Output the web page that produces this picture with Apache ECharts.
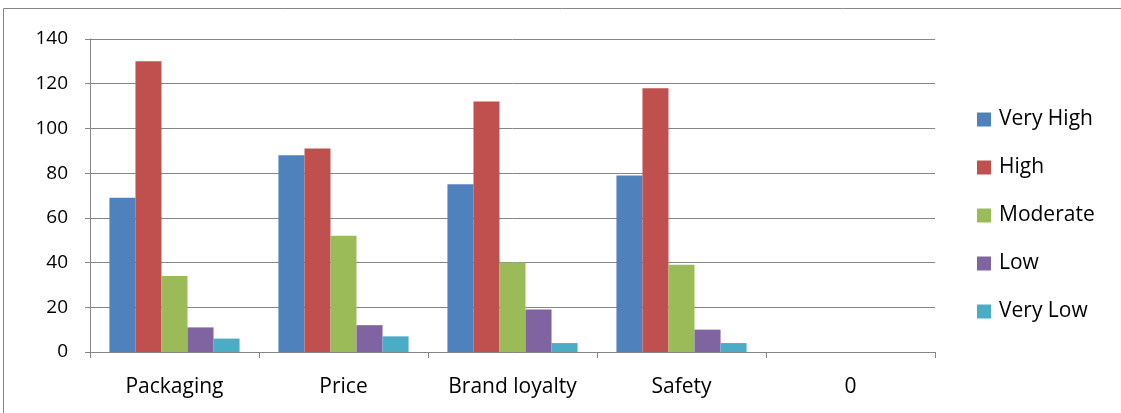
<!DOCTYPE html>
<html>
<head>
<meta charset="utf-8">
<script src="https://cdn.jsdelivr.net/npm/echarts@6/dist/echarts.min.js"></script>
<style>
html,body{margin:0;padding:0;background:#fff;}
#c{width:1121px;height:413px;}
</style>
</head>
<body>
<div id="c"></div>
<script>
const categories = ['Packaging', 'Price', 'Brand loyalty', 'Safety', '0'];
const seriesNames = ['Very High', 'High', 'Moderate', 'Low', 'Very Low'];
const veryHigh = [69, 88, 75, 79, null];
const high = [130, 91, 112, 118, null];
const moderate = [34, 52, 40, 39, null];
const low = [11, 12, 19, 10, null];
const veryLow = [6, 7, 4, 4, null];
const yTicks = [0, 20, 40, 60, 80, 100, 120, 140];

const colors = ['#4F81BD', '#C0504D', '#9BBB59', '#8064A2', '#4BACC6'];
const values = [veryHigh, high, moderate, low, veryLow];
const font = '"Open Sans", "Liberation Sans", sans-serif';

const chart = echarts.init(document.getElementById('c'), null, {renderer: 'canvas'});
chart.setOption({
  animation: false,
  color: colors,
  graphic: [{
    type: 'rect',
    shape: {x: 3.5, y: 8.5, width: 1130, height: 420},
    style: {fill: 'none', stroke: '#868686', lineWidth: 1},
    silent: true
  }],
  grid: {left: 90, right: 186, top: 39, bottom: 61, containLabel: false},
  legend: {
    orient: 'vertical',
    left: 972,
    top: 104,
    itemWidth: 14,
    itemHeight: 14,
    itemGap: 27,
    icon: 'rect',
    textStyle: {fontFamily: font, fontSize: 21, lineHeight: 20, color: '#000', padding: [0, 0, 0, 3]},
    data: seriesNames
  },
  xAxis: {
    type: 'category',
    data: categories,
    axisLine: {lineStyle: {color: '#868686', width: 1}},
    axisTick: {show: true, length: 6, interval: 0, alignWithLabel: false, lineStyle: {color: '#868686'}},
    axisLabel: {fontFamily: font, fontSize: 21, color: '#000', margin: 25, interval: 0}
  },
  yAxis: {
    type: 'value',
    min: 0,
    max: 140,
    interval: 20,
    axisLine: {show: true, lineStyle: {color: '#868686', width: 1}},
    axisTick: {show: true, length: 5, lineStyle: {color: '#868686'}},
    splitLine: {lineStyle: {color: '#868686', width: 1}},
    axisLabel: {fontFamily: font, fontSize: 19, color: '#000', margin: 22,
      formatter: v => yTicks.includes(v) ? String(v) : ''}
  },
  series: seriesNames.map((n, i) => ({
    name: n,
    type: 'bar',
    data: values[i],
    barGap: '0%',
    barCategoryGap: '23%',
    itemStyle: {color: colors[i]}
  }))
});
</script>
</body>
</html>
